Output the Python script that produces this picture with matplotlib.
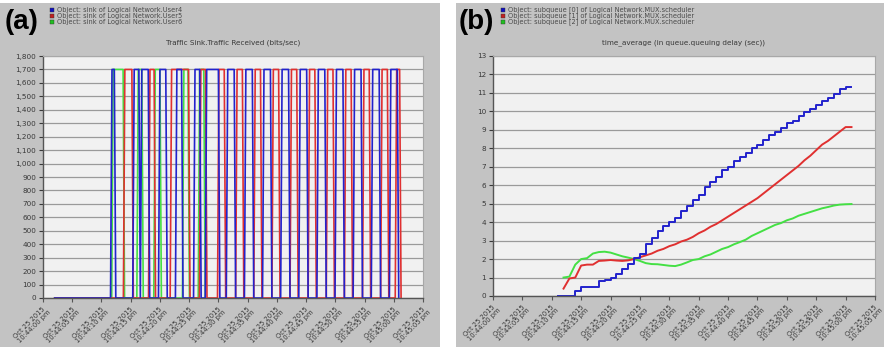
import matplotlib.pyplot as plt
from matplotlib.patches import Rectangle
from matplotlib.ticker import FuncFormatter

W, H = 889, 347

# shared time axis (seconds after 10:44:00 pm)
x_ticks = [0, 5, 10, 15, 20, 25, 30, 35, 40, 45, 50, 55, 60, 65]
x_labels = ['Oct 25 2015\n10:44:00 pm', 'Oct 25 2015\n10:44:05 pm', 'Oct 25 2015\n10:44:10 pm',
            'Oct 25 2015\n10:44:15 pm', 'Oct 25 2015\n10:44:20 pm', 'Oct 25 2015\n10:44:25 pm',
            'Oct 25 2015\n10:44:30 pm', 'Oct 25 2015\n10:44:35 pm', 'Oct 25 2015\n10:44:40 pm',
            'Oct 25 2015\n10:44:45 pm', 'Oct 25 2015\n10:44:50 pm', 'Oct 25 2015\n10:44:55 pm',
            'Oct 25 2015\n10:45:00 pm', 'Oct 25 2015\n10:45:05 pm']

# ---- panel (a): traffic received, on/off pulses (start, end) in seconds
a_title = 'Traffic Sink.Traffic Received (bits/sec)'
a_legend = ['Object: sink of Logical Network.User4',
            'Object: sink of Logical Network.User5',
            'Object: sink of Logical Network.User6']
a_level = 1700
a_idle_start = 2.0
user4_on = [(11.8, 12.2), (15.6, 16.4), (16.9, 18.0), (20.0, 21.0), (22.9, 23.7),
            (26.0, 26.8), (28.0, 30.0), (31.6, 32.7), (34.7, 35.8), (37.8, 38.9),
            (40.9, 42.0), (44.0, 45.1), (47.1, 48.2), (50.2, 51.3), (53.3, 54.4),
            (56.4, 57.5), (59.5, 60.6)]
user5_on = [(14.0, 15.2), (18.3, 19.0), (22.0, 24.9), (27.0, 27.8), (30.1, 31.0),
            (33.2, 34.1), (36.3, 37.2), (39.4, 40.3), (42.5, 43.4), (45.6, 46.5),
            (48.7, 49.6), (51.8, 52.7), (54.9, 55.8), (58.0, 58.9), (60.5, 61.0)]
user6_on = [(12.0, 13.7), (16.3, 16.9), (19.2, 20.0), (24.1, 24.8), (26.8, 27.5)]

# ---- panel (b): time average queuing delay (sec)
b_title = 'time_average (in queue.queuing delay (sec))'
b_legend = ['Object: subqueue [0] of Logical Network.MUX.scheduler',
            'Object: subqueue [1] of Logical Network.MUX.scheduler',
            'Object: subqueue [2] of Logical Network.MUX.scheduler']
t_q0 = [11, 12, 13, 14, 15, 16, 17, 18, 19, 20, 21, 22, 23, 24, 25, 26, 27, 28, 29, 30,
        31, 32, 33, 34, 35, 36, 37, 38, 39, 40, 41, 42, 43, 44, 45, 46, 47, 48, 49, 50,
        51, 52, 53, 54, 55, 56, 57, 58, 59, 60, 61]
q0 = [0, 0, 0, 0.25, 0.5, 0.5, 0.5, 0.8, 0.88, 1.0, 1.2, 1.45, 1.75, 2.05, 2.3, 2.8,
      3.15, 3.5, 3.8, 4.0, 4.25, 4.6, 4.9, 5.2, 5.45, 5.9, 6.15, 6.45, 6.8, 7.0, 7.3,
      7.55, 7.75, 8.0, 8.2, 8.45, 8.7, 8.9, 9.1, 9.35, 9.5, 9.75, 9.95, 10.15, 10.35,
      10.55, 10.75, 10.95, 11.2, 11.3, 11.3]
t_q12 = [12, 13, 14, 15, 16, 17, 18, 19, 20, 21, 22, 23, 24, 25, 26, 27, 28, 29, 30,
         31, 32, 33, 34, 35, 36, 37, 38, 39, 40, 41, 42, 43, 44, 45, 46, 47, 48, 49, 50,
         51, 52, 53, 54, 55, 56, 57, 58, 59, 60, 61]
q1 = [0.4, 0.95, 1.0, 1.65, 1.7, 1.7, 1.9, 1.92, 1.95, 1.92, 1.9, 1.93, 2.0, 2.1, 2.2,
      2.3, 2.45, 2.55, 2.7, 2.8, 2.95, 3.05, 3.2, 3.4, 3.55, 3.75, 3.9, 4.1, 4.3, 4.5,
      4.7, 4.9, 5.1, 5.3, 5.55, 5.8, 6.05, 6.3, 6.55, 6.8, 7.05, 7.35, 7.6, 7.9, 8.2,
      8.4, 8.65, 8.9, 9.15, 9.15]
q2 = [1.0, 1.05, 1.7, 2.0, 2.05, 2.3, 2.38, 2.4, 2.35, 2.25, 2.15, 2.08, 2.0, 1.9, 1.78,
      1.73, 1.72, 1.68, 1.64, 1.62, 1.7, 1.82, 1.95, 2.0, 2.15, 2.25, 2.4, 2.55, 2.65,
      2.8, 2.92, 3.05, 3.25, 3.4, 3.55, 3.7, 3.85, 3.95, 4.1, 4.2, 4.35, 4.45, 4.55,
      4.65, 4.75, 4.82, 4.9, 4.95, 4.97, 4.98]

BLUE, RED, GREEN = '#2222cc', '#e03030', '#44e044'
SQ = ['#1010c0', '#c02020', '#20c020']
PANEL_GRAY = '#c3c3c3'
PLOT_BG = '#f1f1f1'
TXT = '#383838'


def fx(px):
    return px / W


def fy(py):
    return 1 - py / H


def pulse_trace(start, on_list, level, ramp=0.25):
    xs, ys = [start], [0]
    for s, e in on_list:
        xs += [s - ramp, s, e, e + ramp]
        ys += [0, level, level, 0]
    return xs, ys


def style_axes(ax, ymax, ystep, fmt):
    ax.set_facecolor(PLOT_BG)
    ax.set_xlim(0, 65)
    ax.set_ylim(0, ymax)
    ax.set_xticks(x_ticks)
    ax.set_xticklabels(x_labels, rotation=45, ha='right', va='top',
                       rotation_mode='anchor', fontsize=4.9, color=TXT,
                       multialignment='center', linespacing=1.0)
    ax.set_yticks(range(0, ymax + 1, ystep))
    ax.yaxis.set_major_formatter(FuncFormatter(fmt))
    ax.tick_params(axis='y', labelsize=5.2, colors=TXT, length=3, width=0.8, pad=2)
    ax.tick_params(axis='x', length=3, width=0.8, colors='#555555', pad=2)
    for lbl in ax.get_xticklabels():
        lbl.set_color(TXT)
    ax.yaxis.grid(True, color='#9a9a9a', lw=0.9)
    ax.set_axisbelow(True)
    for side in ['left', 'bottom']:
        ax.spines[side].set_color('#555555')
        ax.spines[side].set_linewidth(1.0)
    for side in ['top', 'right']:
        ax.spines[side].set_color('#a8a8a8')
        ax.spines[side].set_linewidth(0.8)


def legend_block(fig, x0, labels):
    for i, (lab, c) in enumerate(zip(labels, SQ)):
        yc = 10 + 6 * i
        fig.patches.append(Rectangle((fx(x0), fy(yc + 2)), 4 / W, 4 / H,
                                     transform=fig.transFigure, facecolor=c,
                                     edgecolor='#333333', lw=0.3, zorder=2))
        fig.text(fx(x0 + 7), fy(yc), lab, fontsize=4.8, color='#4a4a4a',
                 va='center', ha='left')


fig = plt.figure(figsize=(W / 100, H / 100), dpi=100)
fig.patch.set_facecolor('white')

# gray panel backgrounds (behind the axes)
fig.patches.append(Rectangle((0, 0), fx(440), fy(3), transform=fig.transFigure,
                             facecolor=PANEL_GRAY, edgecolor='none', zorder=-10))
fig.patches.append(Rectangle((fx(456), 0), (884 - 456) / W, fy(3), transform=fig.transFigure,
                             facecolor=PANEL_GRAY, edgecolor='none', zorder=-10))

# panel (a)
ax1 = fig.add_axes([fx(43), fy(298), (423 - 43) / W, (298 - 56) / H])
style_axes(ax1, 1800, 100, lambda v, p: '{:,}'.format(int(v)))
for on_list, c in [(user6_on, GREEN), (user5_on, RED), (user4_on, BLUE)]:
    xs, ys = pulse_trace(a_idle_start, on_list, a_level)
    ax1.plot(xs, ys, color=c, lw=1.2, clip_on=False)
fig.text(fx(233), fy(43), a_title, fontsize=5.2, color=TXT, ha='center', va='center')
legend_block(fig, 50, a_legend)
fig.text(fx(5), fy(22), '(a)', fontsize=20, fontweight='bold', va='center',
         ha='left', family='Liberation Sans')

# panel (b)
ax2 = fig.add_axes([fx(493), fy(296), (875 - 493) / W, (296 - 56) / H])
style_axes(ax2, 13, 1, lambda v, p: '{:d}'.format(int(v)))
ax2.plot(t_q12, q2, color=GREEN, lw=1.4)
ax2.plot(t_q12, q1, color=RED, lw=1.4)
ax2.plot(t_q0, q0, color=BLUE, lw=1.4, drawstyle='steps-post')
fig.text(fx(684), fy(43), b_title, fontsize=5.2, color=TXT, ha='center', va='center')
legend_block(fig, 501, b_legend)
fig.text(fx(459), fy(22), '(b)', fontsize=20, fontweight='bold', va='center',
         ha='left', family='Liberation Sans')

fig.savefig('out.png', dpi=100)
